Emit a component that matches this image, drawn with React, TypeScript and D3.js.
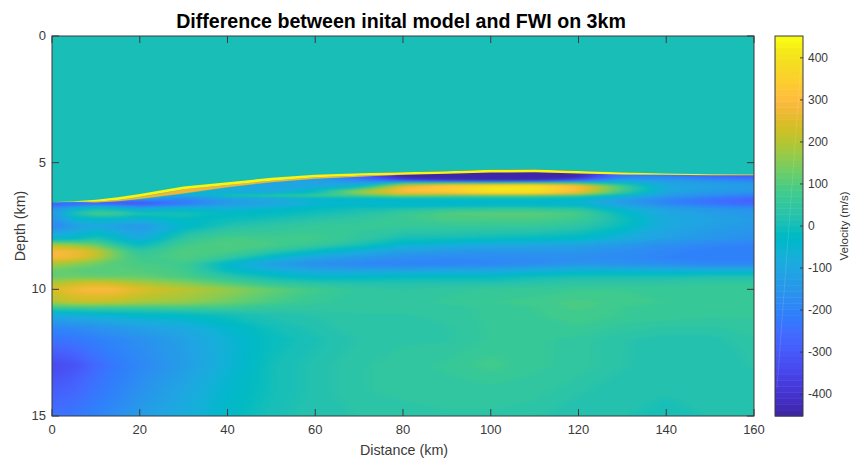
import React from 'react'
import * as d3 from 'd3'

const W = 854
const H = 459
const plot = { left: 52, right: 754, top: 36, bottom: 416 }
const bar = { left: 775, right: 803 }
const CLIM = 452

// parula, 64 steps
const parula = [
  [0.2422,0.1504,0.6603],[0.2504,0.165,0.7076],[0.2578,0.1818,0.7511],[0.2647,0.1978,0.7952],
  [0.2706,0.2147,0.8364],[0.2751,0.2342,0.871],[0.2783,0.2559,0.8991],[0.2803,0.2782,0.9221],
  [0.2813,0.3006,0.9414],[0.281,0.3228,0.9579],[0.2795,0.3447,0.9717],[0.276,0.3667,0.9829],
  [0.2699,0.3892,0.9906],[0.2602,0.4123,0.9952],[0.244,0.4358,0.9988],[0.2206,0.4603,0.9973],
  [0.1963,0.4847,0.9892],[0.1834,0.5074,0.9798],[0.1786,0.5289,0.9682],[0.1764,0.5499,0.952],
  [0.1687,0.5703,0.9359],[0.154,0.5902,0.9218],[0.146,0.6091,0.9079],[0.138,0.6276,0.8973],
  [0.1248,0.6459,0.8883],[0.1113,0.6635,0.8763],[0.0952,0.6798,0.8598],[0.0689,0.6948,0.8394],
  [0.0297,0.7082,0.8163],[0.0036,0.7203,0.7917],[0.0067,0.7312,0.766],[0.0433,0.7411,0.7394],
  [0.0964,0.75,0.712],[0.1408,0.7584,0.6842],[0.1717,0.767,0.6554],[0.1938,0.7758,0.6251],
  [0.2161,0.7843,0.5923],[0.247,0.7918,0.5567],[0.2906,0.7973,0.5188],[0.3406,0.8008,0.4789],
  [0.3909,0.8029,0.4354],[0.4456,0.8024,0.3909],[0.5044,0.7993,0.348],[0.5616,0.7942,0.3045],
  [0.6174,0.7876,0.2612],[0.672,0.7793,0.2227],[0.7242,0.7698,0.191],[0.7738,0.7598,0.1646],
  [0.8203,0.7498,0.1535],[0.8634,0.7406,0.1596],[0.9035,0.733,0.1774],[0.9393,0.7288,0.21],
  [0.9728,0.7298,0.2394],[0.9956,0.7434,0.2371],[0.997,0.7659,0.2199],[0.9952,0.7861,0.1974],
  [0.9892,0.8073,0.1802],[0.9786,0.8278,0.1633],[0.9676,0.848,0.145],[0.961,0.8699,0.1283],
  [0.9597,0.8905,0.1147],[0.964,0.9118,0.1],[0.973,0.9477,0.0886],[0.9769,0.9839,0.0805],
].map(([r, g, b]) => d3.rgb(r * 255, g * 255, b * 255).formatHex())

const distanceTicks = [0, 20, 40, 60, 80, 100, 120, 140, 160]
const depthTicks = [0, 5, 10, 15]
const velocityTicks = [-400, -300, -200, -100, 0, 100, 200, 300, 400]

// grid columns (km) and rows (km), not evenly spaced
const distances = [0, 5, 10, 15, 20, 30, 40, 50, 60, 70, 80, 90, 100, 110, 120, 130, 140, 150, 160]
const depths = [
  5.0, 5.4, 5.5, 5.6, 5.7, 5.8, 5.9, 6.0, 6.1, 6.2, 6.3, 6.4, 6.5, 6.6, 6.7, 6.8, 7.0, 7.25, 7.5,
  8.0, 8.25, 8.5, 8.75, 9.0, 9.25, 9.5, 9.75, 10.0, 10.5, 10.75, 11.0, 11.5, 12.0, 13.0, 14.0, 15.0,
]

// velocity difference (m/s), one row per depth
const velocity = [
  [0,0,0,0,0,0,0,-100,-110,-280,-420,-450,-450,-450,-430,-230,-230,-300,-320],
  [0,0,0,0,0,0,0,-100,-110,-280,-420,-450,-450,-450,-430,-230,-230,-300,-320],
  [0,0,0,0,0,0,0,-100,-110,-290,-440,-450,-450,-450,-440,-230,-220,-290,-310],
  [0,0,0,0,0,0,-60,-110,-120,-250,-430,-450,-450,-450,-420,-180,-170,-220,-260],
  [0,0,0,0,0,0,-70,-110,-120,-190,-320,-400,-430,-420,-280,-100,-130,-170,-200],
  [0,0,0,0,0,0,-70,-110,-110,-120,30,40,30,50,40,-20,-110,-130,-150],
  [0,0,0,0,0,0,-70,-100,-100,-70,220,330,370,390,280,60,-100,-120,-130],
  [0,0,0,0,0,150,-70,-100,-70,30,290,340,410,410,300,90,-90,-120,-130],
  [0,0,0,0,0,-60,-80,-100,-20,150,300,340,410,400,290,70,-90,-130,-130],
  [0,0,0,0,-30,-30,-70,-70,-10,170,280,300,380,380,270,50,-110,-150,-170],
  [0,0,0,0,-40,-110,30,60,70,90,150,110,90,90,60,-40,-130,-170,-210],
  [0,0,0,0,-60,-180,-110,-90,-30,-20,-10,0,0,0,-20,-100,-170,-220,-260],
  [0,0,-250,-240,-230,-210,-130,-100,-50,-40,-30,-30,-30,-30,-40,-130,-200,-250,-280],
  [-320,-300,-300,-310,-330,-230,-140,-110,-50,-50,-50,-50,-50,-50,-50,-130,-190,-240,-270],
  [-240,-180,-120,-170,-220,-160,-110,-80,-40,-30,-30,-30,-20,-20,-20,-100,-160,-200,-230],
  [-180,-70,-10,-50,-100,-60,-70,-50,-20,0,10,30,40,40,30,-60,-120,-150,-170],
  [-150,20,90,80,20,10,-20,-20,0,20,60,100,110,110,90,-20,-100,-120,-140],
  [-170,-50,-40,-50,-70,-20,-10,10,30,50,70,90,90,90,70,0,-90,-110,-130],
  [-200,-130,-90,-120,-150,-40,20,40,60,60,60,60,60,60,40,-10,-90,-120,-140],
  [-50,-30,30,-30,-90,50,90,80,80,50,0,0,-10,-20,-30,-80,-120,-150,-170],
  [200,170,130,40,-20,80,100,90,60,10,-50,-70,-90,-100,-110,-140,-170,-190,-200],
  [290,280,230,120,40,100,90,40,-20,-70,-120,-140,-150,-150,-150,-170,-190,-210,-210],
  [290,270,210,120,70,100,50,-40,-110,-140,-170,-180,-180,-170,-170,-180,-200,-210,-210],
  [190,160,130,100,90,80,-40,-120,-170,-190,-200,-200,-190,-170,-150,-160,-170,-190,-190],
  [130,110,100,100,100,80,-20,-70,-100,-110,-110,-100,-100,-80,-60,-60,-70,-70,-70],
  [120,130,120,120,120,90,40,-10,-40,-30,-20,-20,-20,0,10,10,10,20,20],
  [190,220,240,220,190,150,100,50,30,20,20,20,20,30,40,40,40,50,50],
  [240,280,300,290,250,210,170,120,80,50,40,50,60,60,70,70,70,70,70],
  [190,220,220,210,190,170,130,90,60,50,50,60,70,80,90,80,70,70,70],
  [50,60,60,60,60,70,70,50,50,50,50,50,60,70,90,70,70,70,70],
  [-80,-70,-50,-40,-30,-20,0,20,30,40,40,50,60,70,80,70,70,60,60],
  [-190,-180,-160,-140,-120,-90,-40,0,20,40,40,40,60,60,70,50,40,40,50],
  [-240,-230,-210,-190,-170,-120,-60,-10,10,30,40,40,60,60,50,30,20,20,40],
  [-340,-320,-260,-220,-190,-130,-60,0,20,40,50,60,80,60,50,30,15,15,30],
  [-290,-270,-230,-200,-160,-100,-40,0,20,40,50,50,50,50,30,20,15,15,20],
  [-240,-230,-200,-170,-130,-80,-30,10,20,30,30,40,40,30,20,15,10,15,20],
]

// top of the model change, then the yellow rim and the orange shoulder under it (km)
const interfaceDepth = [6.56, 6.52, 6.46, 6.37, 6.24, 5.94, 5.77, 5.6, 5.48, 5.42, 5.38, 5.34, 5.28, 5.27, 5.33, 5.39, 5.43, 5.46, 5.47]
const rimThickness = [0, 0.02, 0.08, 0.1, 0.11, 0.11, 0.11, 0.11, 0.1, 0.1, 0.1, 0.1, 0.11, 0.11, 0.1, 0.08, 0.05, 0.04, 0.03]
const shoulderThickness = [0, 0, 0.03, 0.05, 0.08, 0.17, 0.09, 0.06, 0.05, 0.04, 0, 0, 0, 0, 0, 0, 0, 0, 0]

const x = d3.scaleLinear().domain([0, 160]).range([plot.left, plot.right])
const y = d3.scaleLinear().domain([0, 15]).range([plot.top, plot.bottom])
const barY = d3.scaleLinear().domain([CLIM, -CLIM]).range([plot.top, plot.bottom])
const colorIndex = d3.scaleQuantize<number>().domain([-CLIM, CLIM]).range(d3.range(64))

// repeat the edge columns/rows past the frame so the blur has something to pull from
const paddedDistances = [-30, ...distances, 190]
const paddedDepths = [...depths, 17]
const paddedRows = [...velocity, velocity[velocity.length - 1]].map((r) => [r[0], ...r, r[r.length - 1]])

// d3.contours puts grid point i at i + 0.5, so map those back to km
const gridX = d3.scaleLinear().domain(paddedDistances.map((_, i) => i + 0.5)).range(paddedDistances).clamp(true)
const gridY = d3.scaleLinear().domain(paddedDepths.map((_, i) => i + 0.5)).range(paddedDepths).clamp(true)

const contourPath = d3.geoPath(
  d3.geoTransform({
    point(px, py) {
      this.stream.point(x(gridX(px)), y(gridY(py)))
    },
  }),
)

const levels = d3.range(1, 64).map((i) => -CLIM + (i * 2 * CLIM) / 64)
const bands = d3
  .contours()
  .size([paddedDistances.length, paddedDepths.length])
  .smooth(true)
  .thresholds(levels)(paddedRows.flat())

const topArea = d3
  .area<number>()
  .x((d) => x(d))
  .y0(y(0))
  .y1((_, i) => y(interfaceDepth[i]))
const rimArea = d3
  .area<number>()
  .x((d) => x(d))
  .y0((_, i) => y(interfaceDepth[i]))
  .y1((_, i) => y(interfaceDepth[i] + rimThickness[i]))
const shoulderArea = d3
  .area<number>()
  .x((d) => x(d))
  .y0((_, i) => y(interfaceDepth[i] + rimThickness[i]))
  .y1((_, i) => y(interfaceDepth[i] + rimThickness[i] + shoulderThickness[i]))

const INK = '#3a3a3a'
const font = '"Liberation Sans", Arial, sans-serif'

export default function App() {
  return (
    <svg
      width={W}
      height={H}
      viewBox={`0 0 ${W} ${H}`}
      style={{ position: 'absolute', left: 0, top: 0, display: 'block', background: '#fff' }}
      fontFamily={font}
    >
      <text x={401} y={28} textAnchor="middle" fontSize={19.6} fontWeight="bold" fill="#000">
        Difference between inital model and FWI on 3km
      </text>

      {/* field */}
      <defs>
        <clipPath id="plot-clip">
          <rect x={plot.left} y={plot.top} width={plot.right - plot.left} height={plot.bottom - plot.top} />
        </clipPath>
        <filter id="soften" filterUnits="userSpaceOnUse" x={-200} y={-20} width={1300} height={600} colorInterpolationFilters="sRGB">
          <feGaussianBlur stdDeviation="7 0.8" />
        </filter>
        <filter id="soften-edge" filterUnits="userSpaceOnUse" x={0} y={0} width={W} height={H} colorInterpolationFilters="sRGB">
          <feGaussianBlur stdDeviation="2 0.5" />
        </filter>
      </defs>
      <g clipPath="url(#plot-clip)">
        <g filter="url(#soften)">
          <rect x={-150} y={plot.top} width={1200} height={500} fill={parula[0]} />
          {bands.map((b, i) => (
            <path key={i} d={contourPath(b) ?? ''} fill={parula[colorIndex(b.value + 1)]} />
          ))}
        </g>
        <path d={shoulderArea(distances) ?? ''} fill="#f0b53a" filter="url(#soften-edge)" />
        <path d={topArea(distances) ?? ''} fill={parula[32]} />
        <path d={rimArea(distances) ?? ''} fill="#f9f511" />
      </g>

      {/* axes box */}
      <rect x={plot.left} y={plot.top} width={plot.right - plot.left} height={plot.bottom - plot.top} fill="none" stroke={INK} strokeWidth={1} />
      {distanceTicks.map((d) => (
        <g key={d}>
          <line x1={x(d)} x2={x(d)} y1={plot.top} y2={plot.top + 7} stroke={INK} />
          <line x1={x(d)} x2={x(d)} y1={plot.bottom} y2={plot.bottom - 7} stroke={INK} />
          <text x={x(d)} y={plot.bottom + 18} textAnchor="middle" fontSize={13} fill={INK}>{d}</text>
        </g>
      ))}
      {depthTicks.map((d) => (
        <g key={d}>
          <line x1={plot.left} x2={plot.left + 7} y1={y(d)} y2={y(d)} stroke={INK} />
          <line x1={plot.right} x2={plot.right - 7} y1={y(d)} y2={y(d)} stroke={INK} />
          <text x={plot.left - 6} y={y(d) + 4} textAnchor="end" fontSize={13} fill={INK}>{d}</text>
        </g>
      ))}
      <text x={404} y={455} textAnchor="middle" fontSize={14.3} fill={INK}>Distance (km)</text>
      <text transform={`translate(25,${(plot.top + plot.bottom) / 2}) rotate(-90)`} textAnchor="middle" fontSize={14.3} fill={INK}>Depth (km)</text>

      {/* colorbar */}
      {parula.map((c, i) => (
        <rect
          key={i}
          x={bar.left}
          y={barY(-CLIM + ((i + 1) * 2 * CLIM) / 64)}
          width={bar.right - bar.left}
          height={(plot.bottom - plot.top) / 64 + 0.5}
          fill={c}
        />
      ))}
      <line
        x1={bar.right - 2}
        x2={bar.left + 2}
        y1={barY(385)}
        y2={barY(-385)}
        stroke="#fff"
        strokeOpacity={0.12}
      />
      <rect x={bar.left} y={plot.top} width={bar.right - bar.left} height={plot.bottom - plot.top} fill="none" stroke={INK} />
      {velocityTicks.map((v) => (
        <g key={v}>
          <line x1={bar.right} x2={bar.right - 3} y1={barY(v)} y2={barY(v)} stroke={INK} />
          <text x={bar.right + 5} y={barY(v) + 4} fontSize={12} fill={INK}>{v}</text>
        </g>
      ))}
      <text transform={`translate(848,${(plot.top + plot.bottom) / 2}) rotate(-90)`} textAnchor="middle" fontSize={11.5} fill={INK}>Velocity (m/s)</text>
    </svg>
  )
}
